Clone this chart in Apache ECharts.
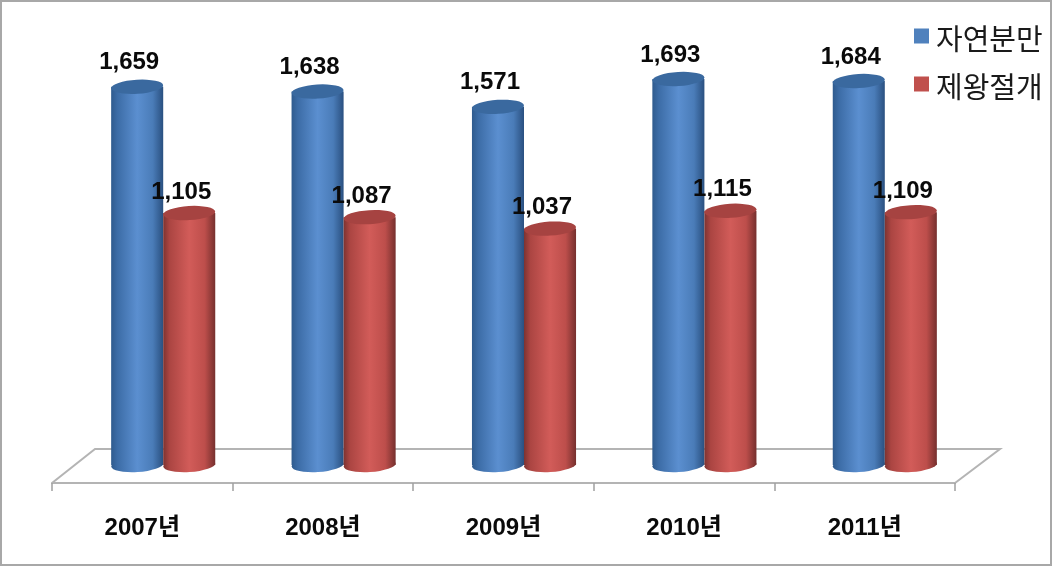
<!DOCTYPE html>
<html><head><meta charset="utf-8">
<style>html,body{margin:0;padding:0;background:#fff}#c{width:1054px;height:568px}</style>
<script src="https://cdn.jsdelivr.net/npm/echarts@6/dist/echarts.min.js"></script>
</head><body><div id="c"></div>
<script>
const categories = ['2007년','2008년','2009년','2010년','2011년'];
const natural = [1659,1638,1571,1693,1684];
const cesarean = [1105,1087,1037,1115,1109];
const FONT = '"Liberation Sans","Noto Sans CJK KR",sans-serif';
const chart = echarts.init(document.getElementById('c'), null, {renderer:'canvas'});
function grad(stops){return new echarts.graphic.LinearGradient(0,0,1,0,stops.map((c,i)=>({offset:c[0],color:c[1]})));}
const palette = {
  blue:{body:[[0,'#2f5b8e'],[0.12,'#3c6ca6'],[0.5,'#5b8fd0'],[0.8,'#4a7cb8'],[1,'#2a5080']],top:'#3a699f',labelLift:24},
  red:{body:[[0,'#7d3331'],[0.12,'#ab4542'],[0.5,'#d25c59'],[0.8,'#bd4e4b'],[1,'#76302e']],top:'#a64341',labelLift:21}
};
function cylinder(p, slot){
  return function(params, api){
    const cat = api.value(0), val = api.value(1);
    const base = api.coord([cat,0]), top = api.coord([cat,val]);
    const w = api.size([1,0])[0]*0.2885;
    const cx = base[0] + slot*w/2;
    const r = w/2, sy = 0.27, tilt = 0.06;
    const fill = grad(p.body);
    return {type:'group',children:[
      {type:'circle',shape:{cx:0,cy:0,r:r},x:cx,y:base[1],scaleY:sy,rotation:tilt,style:{fill:fill}},
      {type:'rect',shape:{x:cx-r,y:top[1],width:w,height:base[1]-top[1]},style:{fill:fill}},
      {type:'circle',shape:{cx:0,cy:0,r:r},x:cx,y:top[1],scaleY:sy,rotation:tilt,style:{fill:p.top}},
      {type:'text',x:cx-8,y:top[1]-p.labelLift,style:{text:echarts.format.addCommas(val),font:'bold 24px '+FONT,fill:'#0a0a0a',align:'center',verticalAlign:'middle'}}
    ]};
  };
}
chart.setOption({
  animation:false,
  backgroundColor:'#fff',
  grid:[
    {left:73,width:902,top:9,height:456},
    {left:52,width:903,top:400,height:83}
  ],
  xAxis:[
    {type:'category',gridIndex:0,data:categories,axisLine:{show:false},axisTick:{show:false},axisLabel:{show:false}},
    {type:'category',gridIndex:1,data:categories,boundaryGap:true,
     axisLine:{show:true,lineStyle:{color:'#b4b4b4',width:2}},
     axisTick:{show:true,length:8,lineStyle:{color:'#a0a0a0',width:1.5}},
     axisLabel:{show:true,margin:33,fontFamily:FONT,fontWeight:'bold',fontSize:24,color:'#0a0a0a'}}
  ],
  yAxis:[
    {type:'value',gridIndex:0,min:0,max:2000,show:false},
    {type:'value',gridIndex:1,min:0,max:1,show:false}
  ],
  legend:{orient:'vertical',left:909,top:22,itemWidth:15,itemHeight:26,itemGap:19,
    icon:'path://M0 0h15v15h-15zM0 26h0',
    selectedMode:false,textStyle:{fontFamily:FONT,fontSize:29,color:'#1a1a1a',padding:[0,0,0,2]},
    data:['자연분만','제왕절개']},
  graphic:[
    {type:'rect',z:-1,shape:{x:1,y:1,width:1050,height:564},style:{fill:'none',stroke:'#a8a8a8',lineWidth:2}},
    {type:'polyline',z:-1,shape:{points:[[52,483],[95,449],[1000,449],[955,483]]},style:{fill:'none',stroke:'#b4b4b4',lineWidth:2}}
  ],
  series:[
    {name:'자연분만',type:'custom',xAxisIndex:0,yAxisIndex:0,data:natural.map((v,i)=>[i,v]),
     encode:{x:0,y:1},itemStyle:{color:'#4f81bd'},renderItem:cylinder(palette.blue,-1)},
    {name:'제왕절개',type:'custom',xAxisIndex:0,yAxisIndex:0,data:cesarean.map((v,i)=>[i,v]),
     encode:{x:0,y:1},itemStyle:{color:'#c0504d'},renderItem:cylinder(palette.red,1)}
  ]
});
</script></body></html>
